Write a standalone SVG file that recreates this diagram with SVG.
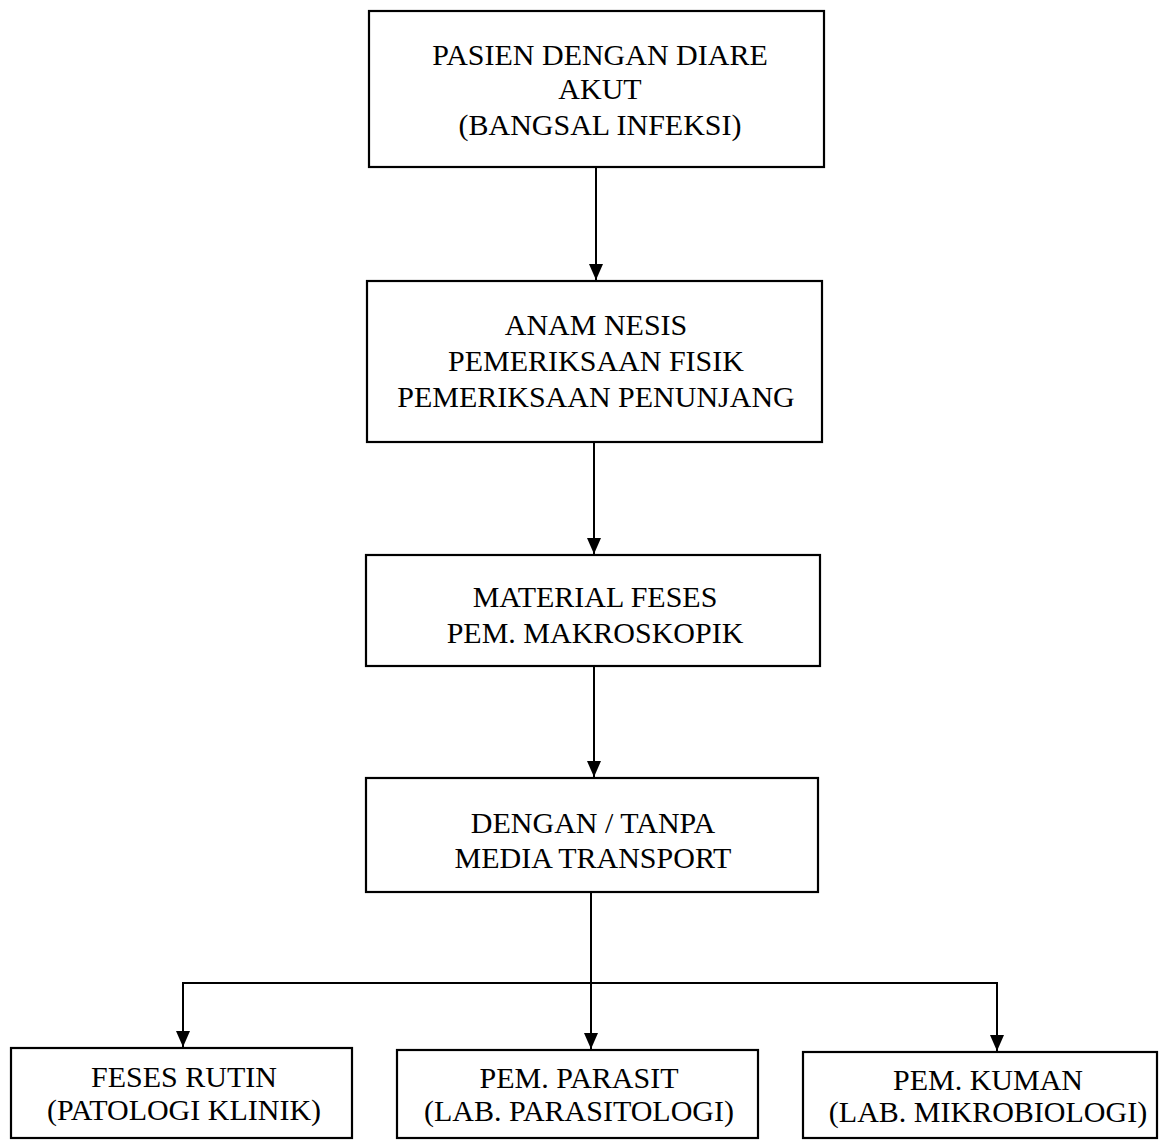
<svg xmlns="http://www.w3.org/2000/svg" width="1160" height="1140" viewBox="0 0 1160 1140">
<style>
.box{fill:#fff;stroke:#000;stroke-width:2.2}
.t{font-family:"Liberation Serif","Times New Roman",serif;font-size:30px;fill:#000;text-anchor:middle}
.c{fill:none;stroke:#000;stroke-width:2}
</style>
<defs>
<marker id="a" markerUnits="userSpaceOnUse" markerWidth="16" markerHeight="14" refX="16" refY="7" orient="auto" viewBox="0 0 16 14">
<path d="M0,0 L16,7 L0,14 Z" fill="#000"/>
</marker>
</defs>
<rect width="1160" height="1140" fill="#fff"/>
<g id="connectors">
<path class="c" d="M596,167 V280" marker-end="url(#a)"/>
<path class="c" d="M594,442 V554" marker-end="url(#a)"/>
<path class="c" d="M594,666 V777" marker-end="url(#a)"/>
<path class="c" d="M591,892 V1049" marker-end="url(#a)"/>
<path class="c" d="M183,983 H997"/>
<path class="c" d="M183,982 V1047" marker-end="url(#a)"/>
<path class="c" d="M997,982 V1051" marker-end="url(#a)"/>
</g>
<g id="n1">
<rect class="box" x="369" y="11" width="455" height="156"/>
<text class="t" x="600" y="65">PASIEN DENGAN DIARE</text>
<text class="t" x="600" y="99">AKUT</text>
<text class="t" x="600" y="135">(BANGSAL INFEKSI)</text>
</g>
<g id="n2">
<rect class="box" x="367" y="281" width="455" height="161"/>
<text class="t" x="596" y="335">ANAM NESIS</text>
<text class="t" x="596" y="371">PEMERIKSAAN FISIK</text>
<text class="t" x="596" y="407">PEMERIKSAAN PENUNJANG</text>
</g>
<g id="n3">
<rect class="box" x="366" y="555" width="454" height="111"/>
<text class="t" x="595" y="607">MATERIAL FESES</text>
<text class="t" x="595" y="643">PEM. MAKROSKOPIK</text>
</g>
<g id="n4">
<rect class="box" x="366" y="778" width="452" height="114"/>
<text class="t" x="593" y="833">DENGAN / TANPA</text>
<text class="t" x="593" y="868">MEDIA TRANSPORT</text>
</g>
<g id="n5">
<rect class="box" x="11" y="1048" width="341" height="90"/>
<text class="t" x="184" y="1087">FESES RUTIN</text>
<text class="t" x="184" y="1120">(PATOLOGI KLINIK)</text>
</g>
<g id="n6">
<rect class="box" x="397" y="1050" width="361" height="88"/>
<text class="t" x="579" y="1088">PEM. PARASIT</text>
<text class="t" x="579" y="1121">(LAB. PARASITOLOGI)</text>
</g>
<g id="n7">
<rect class="box" x="803" y="1052" width="354" height="86"/>
<text class="t" x="988" y="1090">PEM. KUMAN</text>
<text class="t" x="988" y="1122">(LAB. MIKROBIOLOGI)</text>
</g>
</svg>
